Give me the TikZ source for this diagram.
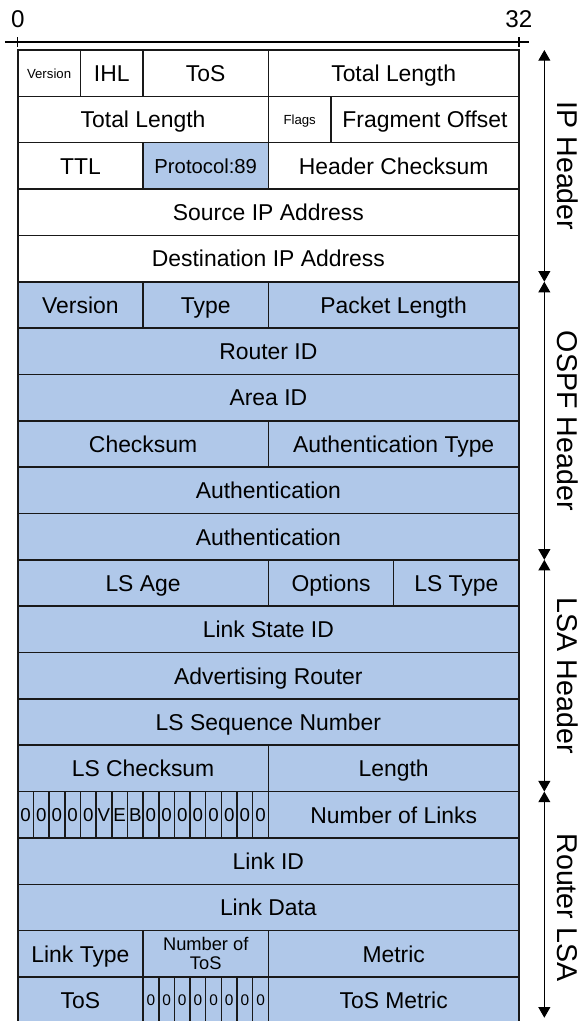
\documentclass[tikz,border=0pt]{standalone}
\usepackage{fontspec}
\setmainfont{Liberation Sans}
\usetikzlibrary{arrows.meta}
\definecolor{ospfblue}{RGB}{176,200,233}
\definecolor{cellline}{RGB}{25,25,25}
\newcommand{\ftiny}[1]{\raisebox{1.6pt}{\fontsize{6}{7}\selectfont #1}}
\newcommand{\fmid}[1]{\raisebox{0.5pt}{\fontsize{9.2}{10.5}\selectfont #1}}
\newcommand{\fsml}{\fontsize{8.3}{8.6}\selectfont}

\begin{document}
\begin{tikzpicture}[x=0.25cm,y=-0.7398cm,
  cell/.style={draw=cellline,line width=0.7pt},
  lbl/.style={font=\fontsize{10.4}{12}\selectfont,align=center,inner sep=0pt,text height=7.6pt,text depth=0pt},
  bitlbl/.style={font=\fontsize{8.5}{10}\selectfont,inner sep=0pt,text height=6.2pt,text depth=0pt},
  brk/.style={{Triangle[length=1.7mm,width=1.9mm]}-{Triangle[length=1.7mm,width=1.9mm]},line width=0.5pt},
  side/.style={font=\fontsize{13}{15}\selectfont,rotate=-90,inner sep=0pt,text height=9.4pt,text depth=0pt}]

\clip (-1.135,-1.079) rectangle (35.92,20.95);

% ruler
\coordinate (r0) at (-0.82,-0.1726);
\coordinate (r1) at (32.67,-0.1726);
\draw[line width=0.6pt] (r0) -- (r1);
\foreach \x in {0,32}{
\coordinate (t\x a) at (\x,-0.28);
\coordinate (t\x b) at (\x,-0.06);
\draw[line width=0.6pt] (t\x a) -- (t\x b);
\node[font=\fontsize{11}{13}\selectfont] (n\x) at (\x,-0.66) {\x};
}

% fields: from/to/row/text/fill
\foreach \a/\b/\r/\t/\c in {
0/4/0/\ftiny{Version}/white, 4/8/0/IHL/white, 8/16/0/ToS/white, 16/32/0/Total Length/white,
0/16/1/Total Length/white, 16/20/1/\ftiny{Flags}/white, 20/32/1/Fragment Offset/white,
0/8/2/TTL/white, 8/16/2/\fmid{Protocol:89}/ospfblue, 16/32/2/Header Checksum/white,
0/32/3/Source IP Address/white,
0/32/4/Destination IP Address/white,
0/8/5/Version/ospfblue, 8/16/5/Type/ospfblue, 16/32/5/Packet Length/ospfblue,
0/32/6/Router ID/ospfblue,
0/32/7/Area ID/ospfblue,
0/16/8/Checksum/ospfblue, 16/32/8/Authentication Type/ospfblue,
0/32/9/Authentication/ospfblue,
0/32/10/Authentication/ospfblue,
0/16/11/LS Age/ospfblue, 16/24/11/Options/ospfblue, 24/32/11/LS Type/ospfblue,
0/32/12/Link State ID/ospfblue,
0/32/13/Advertising Router/ospfblue,
0/32/14/LS Sequence Number/ospfblue,
0/16/15/LS Checksum/ospfblue, 16/32/15/Length/ospfblue,
16/32/16/Number of Links/ospfblue,
0/32/17/Link ID/ospfblue,
0/32/18/Link Data/ospfblue,
0/8/19/Link Type/ospfblue, 16/32/19/Metric/ospfblue,
0/8/20/ToS/ospfblue, 16/32/20/ToS Metric/ospfblue}{
\draw[cell,fill=\c] (\a,\r) rectangle (\b,\r+1);
\node[lbl] (f\r-\a) at ({(\a+\b)/2},\r+0.5) {\t};
}
\draw[cell,fill=ospfblue] (8,19) rectangle (16,20);
\node[lbl,font=\fsml,text height=,text depth=] (f19-8) at (12,19.5) {Number of\\ToS};

% router lsa bits
\foreach \t [count=\i from 0] in {0,0,0,0,0,V,E,B,0,0,0,0,0,0,0,0}{
\draw[cell,fill=ospfblue] (\i,16) rectangle (\i+1,17);
\node[bitlbl] (bit\i) at (\i+0.5,16.5) {\t};
}
\foreach \i in {8,...,15}{
\draw[cell,fill=ospfblue] (\i,20) rectangle (\i+1,21);
\node[bitlbl,font=\fontsize{7}{8}\selectfont,text height=5.1pt] (tos\i) at (\i+0.5,20.5) {0};
}

% header brackets
\foreach \n/\y in {0/0,1/5,2/11,3/16,4/20.88}
\coordinate (s\n) at (33.62,\y);
\draw[brk] (s0) -- (s1);
\draw[brk] (s1) -- (s2);
\draw[brk] (s2) -- (s3);
\draw[brk] (s3) -- (s4);
\node[side] (iphdr) at (35.1,2.5) {IP Header};
\node[side] (ospfhdr) at (35.1,8) {OSPF Header};
\node[side] (lsahdr) at (35.1,13.5) {LSA Header};
\node[side] (rlsa) at (35.1,18.5) {Router LSA};
\end{tikzpicture}
\end{document}
